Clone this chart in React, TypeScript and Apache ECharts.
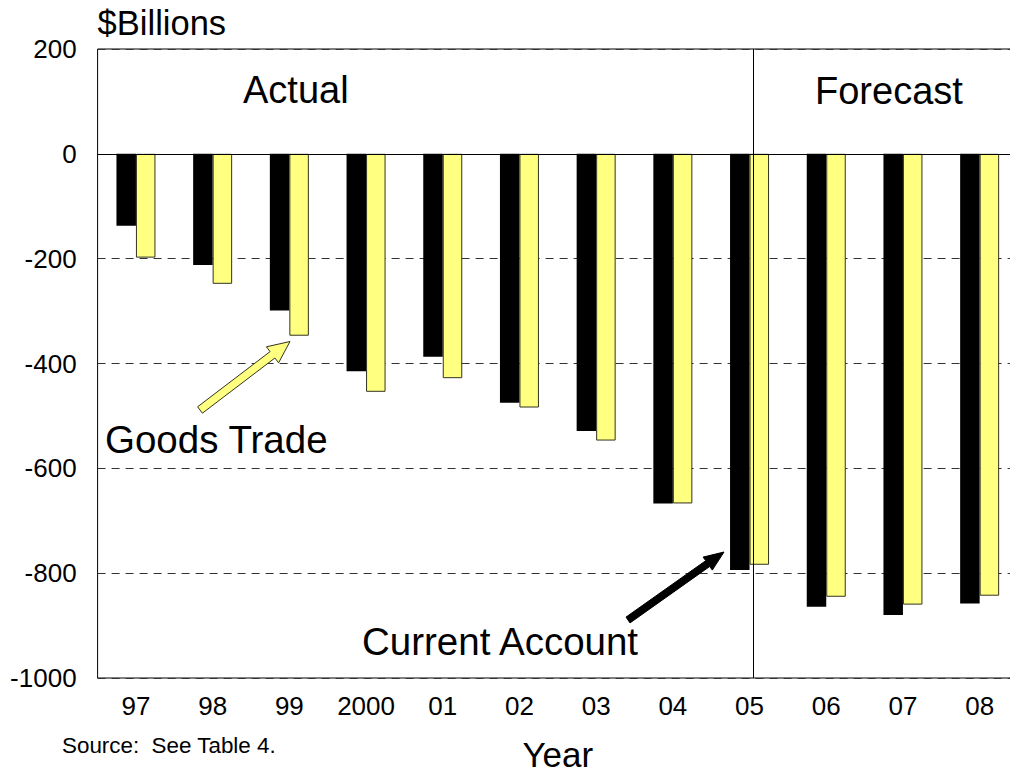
import React, { useEffect, useRef } from "react";
import * as echarts from "echarts";

const categories = ["97", "98", "99", "2000", "01", "02", "03", "04", "05", "06", "07", "08"];
const currentAccount = [-137, -212, -299, -415, -387, -475, -529, -667, -794, -864, -880, -858];
const goodsTrade = [-198, -248, -347, -454, -428, -484, -547, -667, -784, -845, -860, -843];
const yTicks = [200, 0, -200, -400, -600, -800, -1000];

const FONT = "'Liberation Sans', Arial, Helvetica, sans-serif";

export default function App() {
  const ref = useRef<HTMLDivElement>(null);
  useEffect(() => {
    document.body.style.margin = "0";
    if (!ref.current) return;
    const chart = echarts.init(ref.current, undefined, { renderer: "svg" });
    chart.setOption({
      animation: false,
      backgroundColor: "#ffffff",
      textStyle: { fontFamily: FONT },
      grid: {
        left: 97.6,
        top: 49,
        width: 920.4,
        height: 629,
        outerBoundsMode: "none",
        containLabel: false,
        show: true,
        borderColor: "#000000",
        borderWidth: 1,
        backgroundColor: "transparent",
      },
      xAxis: {
        type: "category",
        data: categories,
        name: "Year",
        nameLocation: "middle",
        nameGap: 59,
        nameTextStyle: { fontSize: 35, lineHeight: 35, color: "#000", fontFamily: FONT },
        axisLine: { show: true, lineStyle: { color: "#000", width: 1 } },
        axisTick: { show: false },
        axisLabel: { fontSize: 26, color: "#000", margin: 15, fontFamily: FONT, interval: 0 },
        splitLine: { show: false },
      },
      yAxis: {
        type: "value",
        min: -1000,
        max: 200,
        interval: 200,
        name: "$Billions",
        nameLocation: "end",
        nameGap: 9,
        nameTextStyle: { fontSize: 34.5, color: "#000", align: "left", verticalAlign: "bottom", fontFamily: FONT },
        axisLine: { show: false },
        axisTick: { show: false },
        axisLabel: {
          fontSize: 26,
          color: "#000",
          margin: 21,
          fontFamily: FONT,
          formatter: (v: number) => (yTicks.includes(v) ? String(v) : ""),
        },
        splitLine: { show: true, lineStyle: { color: "#333", width: 1, type: [8, 6] } },
      },
      series: [
        {
          name: "Current Account",
          type: "bar",
          data: currentAccount,
          barWidth: 19.5,
          barGap: "0%",
          itemStyle: { color: "#000000" },
          markLine: {
            silent: true,
            symbol: "none",
            label: { show: false },
            lineStyle: { color: "#000", width: 1, type: "solid" },
            data: [{ yAxis: 0 }],
          },
        },
        {
          name: "Goods Trade",
          type: "bar",
          data: goodsTrade,
          barWidth: 19.5,
          barGap: "0%",
          itemStyle: { color: "#FFFF80", borderColor: "#333322", borderWidth: 1 },
        },
      ],
      graphic: [
        {
          type: "line",
          shape: { x1: 753.5, y1: 49, x2: 753.5, y2: 678 },
          style: { stroke: "#000", lineWidth: 1 },
          z: 10,
        },
        {
          type: "text",
          left: 243,
          top: 71,
          style: { text: "Actual", fontSize: 38, fill: "#000", fontFamily: FONT },
        },
        {
          type: "text",
          left: 815,
          top: 72,
          style: { text: "Forecast", fontSize: 38, fill: "#000", fontFamily: FONT },
        },
        {
          type: "text",
          left: 105,
          top: 420,
          style: { text: "Goods Trade", fontSize: 38.5, fill: "#000", fontFamily: FONT },
        },
        {
          type: "text",
          left: 362,
          top: 622,
          style: { text: "Current Account", fontSize: 38.5, fill: "#000", fontFamily: FONT },
        },
        {
          type: "text",
          left: 62,
          top: 734,
          style: { text: "Source:  See Table 4.", fontSize: 22.4, fill: "#000", fontFamily: FONT },
        },
        {
          type: "polygon",
          shape: {
            points: [
              [197.6, 406.8],
              [270.1, 351.6],
              [266.4, 346.8],
              [290, 341.5],
              [278.6, 362.8],
              [274.9, 358.0],
              [202.4, 413.2],
            ],
          },
          style: { fill: "#FFFF80", stroke: "#333322", lineWidth: 1 },
          z: 20,
        },
        {
          type: "polygon",
          shape: {
            points: [
              [626.0, 617.1],
              [705.7, 560.7],
              [703.1, 557.1],
              [724, 552],
              [712.3, 570.1],
              [709.7, 566.5],
              [630.0, 622.9],
            ],
          },
          style: { fill: "#000", stroke: "#000", lineWidth: 1 },
          z: 20,
        },
      ],
    });
    return () => chart.dispose();
  }, []);
  return <div ref={ref} style={{ width: 1010, height: 773 }} />;
}
